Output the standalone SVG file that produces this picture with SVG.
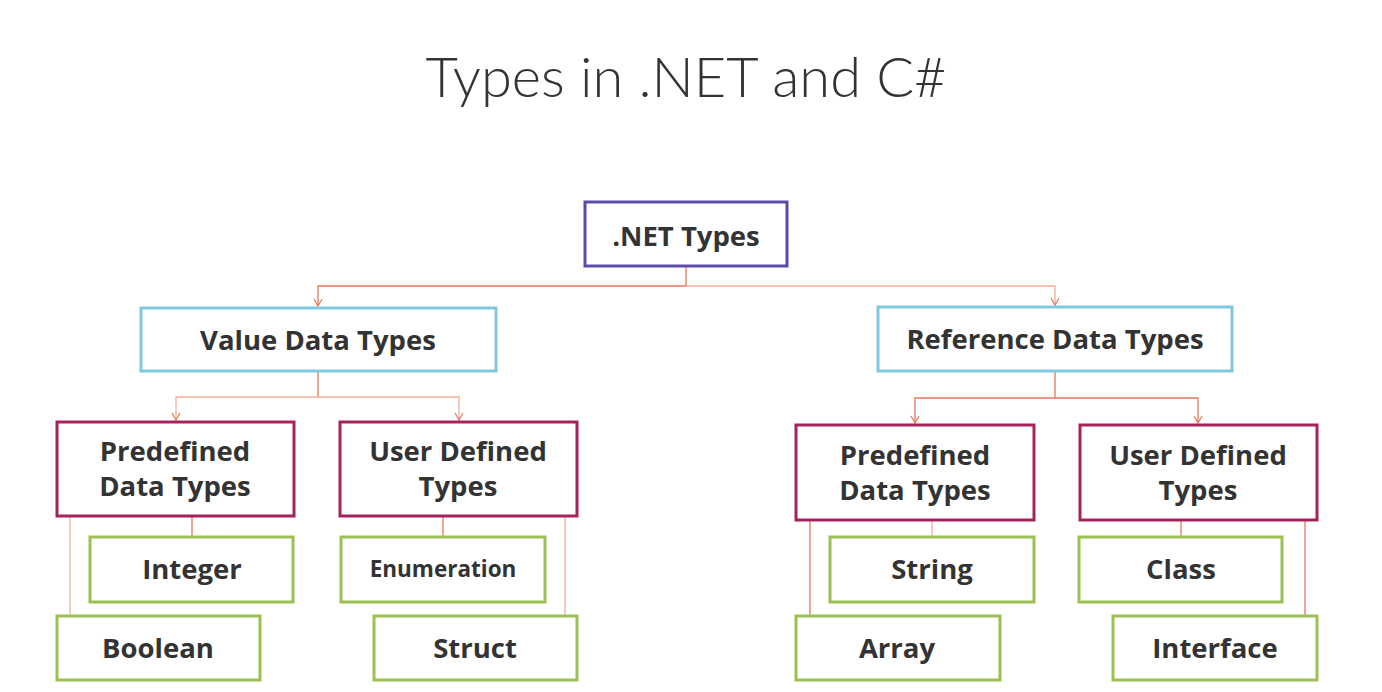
<svg xmlns="http://www.w3.org/2000/svg" width="1382" height="692" viewBox="0 0 1382 692">
<defs>
<marker id="arr" markerWidth="12" markerHeight="12" refX="10" refY="6" orient="auto" markerUnits="userSpaceOnUse" viewBox="0 0 12 12">
<polyline points="3,2 10,6 3,10" fill="none" stroke="#e8765a" stroke-width="1.2"/>
</marker>
<style>
.box{fill:#fff;stroke-width:3}
.top{stroke:#5c4aa6}
.lvl1{stroke:#7ec8e0}
.lvl2{stroke:#a3235a}
.leaf{stroke:#9bc153}
.t{font-family:"Open Sans","Liberation Sans",sans-serif;font-weight:700;fill:#333;text-anchor:middle;font-size:27.5px}
.c{fill:none;stroke:#e8765a;stroke-width:1.3}
.cl{fill:none;stroke:#f4ae9c;stroke-width:1.3}
</style>
</defs>
<rect width="1382" height="692" fill="#fff"/>
<text x="686" y="97" font-family="Lato, 'Liberation Sans', sans-serif" font-weight="300" font-size="56" fill="#333" text-anchor="middle">Types in .NET and C#</text>

<g id="connectors">
<path class="c" d="M686,266 V286 H318 V306" marker-end="url(#arr)"/>
<path class="cl" d="M686,286 H1055 V305" marker-end="url(#arr)"/>
<path class="c" d="M318,371 V397"/>
<path class="cl" d="M318,397 H176 V420" marker-end="url(#arr)"/>
<path class="cl" d="M318,397 H459 V420" marker-end="url(#arr)"/>
<path class="c" d="M1055,371 V398 H915 V423" marker-end="url(#arr)"/>
<path class="c" d="M1055,398 H1198 V423" marker-end="url(#arr)"/>
<path class="c" d="M192,516 V537"/>
<path class="cl" d="M70,516 V616"/>
<path class="c" d="M443,516 V537"/>
<path class="cl" d="M565,516 V616"/>
<path class="cl" d="M932,520 V537"/>
<path class="c" d="M810,520 V616"/>
<path class="c" d="M1181,520 V537"/>
<path class="c" d="M1305,520 V616"/>
</g>

<g id="net-types"><rect class="box top" x="585" y="202" width="202" height="64"/><text class="t" x="686" y="246">.NET Types</text></g>

<g id="value-data-types"><rect class="box lvl1" x="141" y="308" width="355" height="63"/><text class="t" x="318" y="350">Value Data Types</text></g>
<g id="reference-data-types"><rect class="box lvl1" x="878" y="307" width="354" height="64"/><text class="t" x="1055" y="349">Reference Data Types</text></g>

<g id="value-predefined"><rect class="box lvl2" x="57" y="422" width="237" height="94"/><text class="t" x="175" y="461">Predefined</text><text class="t" x="175" y="496">Data Types</text></g>
<g id="value-user-defined"><rect class="box lvl2" x="340" y="422" width="237" height="94"/><text class="t" x="458" y="461">User Defined</text><text class="t" x="458" y="496">Types</text></g>
<g id="ref-predefined"><rect class="box lvl2" x="796" y="425" width="238" height="95"/><text class="t" x="915" y="465">Predefined</text><text class="t" x="915" y="500">Data Types</text></g>
<g id="ref-user-defined"><rect class="box lvl2" x="1080" y="425" width="237" height="95"/><text class="t" x="1198" y="465">User Defined</text><text class="t" x="1198" y="500">Types</text></g>

<g id="integer"><rect class="box leaf" x="90" y="537" width="203" height="65"/><text class="t" x="192" y="579">Integer</text></g>
<g id="boolean"><rect class="box leaf" x="57" y="616" width="203" height="64"/><text class="t" x="158" y="658">Boolean</text></g>
<g id="enumeration"><rect class="box leaf" x="341" y="537" width="204" height="65"/><text class="t" x="443" y="577" style="font-size:22.5px">Enumeration</text></g>
<g id="struct"><rect class="box leaf" x="374" y="616" width="203" height="64"/><text class="t" x="475" y="658">Struct</text></g>
<g id="string"><rect class="box leaf" x="830" y="537" width="204" height="65"/><text class="t" x="932" y="579">String</text></g>
<g id="array"><rect class="box leaf" x="796" y="616" width="204" height="64"/><text class="t" x="897" y="658">Array</text></g>
<g id="class"><rect class="box leaf" x="1079" y="537" width="203" height="65"/><text class="t" x="1181" y="579">Class</text></g>
<g id="interface"><rect class="box leaf" x="1113" y="616" width="204" height="64"/><text class="t" x="1215" y="658">Interface</text></g>
</svg>
